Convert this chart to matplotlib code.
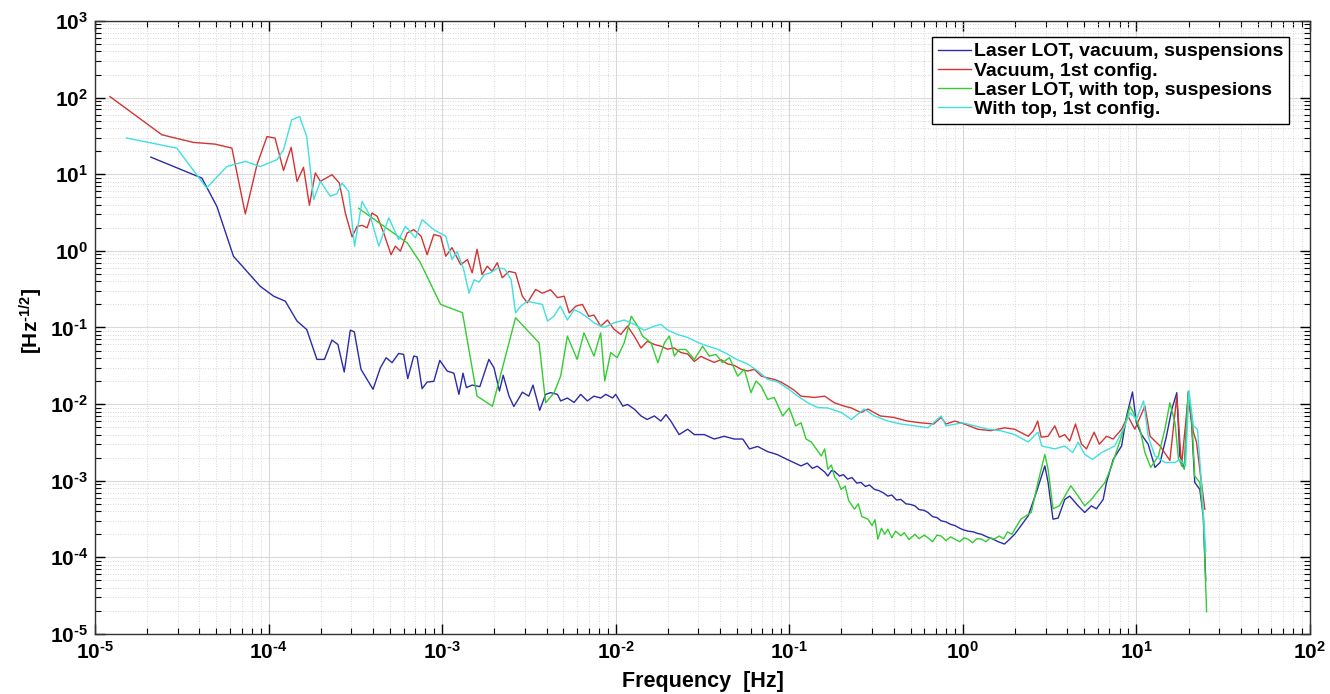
import numpy as np
import matplotlib
matplotlib.use('Agg')
import matplotlib.pyplot as plt
from matplotlib.ticker import LogLocator, NullFormatter, FuncFormatter

plt.rcParams['font.family'] = ['Liberation Sans', 'DejaVu Sans']
plt.rcParams['font.weight'] = 'bold'
plt.rcParams['mathtext.fontset'] = 'custom'
plt.rcParams['mathtext.rm'] = 'Liberation Sans:bold'
plt.rcParams['mathtext.bf'] = 'Liberation Sans:bold'
plt.rcParams['mathtext.default'] = 'bf'
plt.rcParams['axes.unicode_minus'] = False

# Laser LOT, vacuum, suspensions
f_blue = [2.1e-5, 4.13e-5, 5.04e-5, 6.28e-5, 7.5e-5, 8.95e-5, 1.07e-4, 1.25e-4, 1.46e-4, 1.66e-4,
          1.9e-4, 2.1e-4, 2.32e-4, 2.51e-4, 2.73e-4, 2.96e-4, 3.12e-4, 3.41e-4, 4.0e-4, 4.41e-4,
          4.76e-4, 5.15e-4, 5.62e-4, 6.0e-4, 6.34e-4, 6.87e-4, 7.18e-4, 7.67e-4, 8.2e-4, 8.96e-4,
          9.7e-4, 1.07e-3, 1.17e-3, 1.25e-3, 1.32e-3, 1.38e-3, 1.49e-3, 1.65e-3, 1.86e-3, 1.99e-3,
          2.14e-3, 2.25e-3, 2.43e-3, 2.59e-3, 2.75e-3, 2.9e-3, 3.16e-3, 3.34e-3, 3.65e-3, 3.95e-3,
          4.22e-3, 4.62e-3, 4.82e-3, 5.27e-3, 5.76e-3, 6.29e-3, 6.87e-3, 7.5e-3, 8.2e-3, 8.77e-3,
          9.6e-3, 1.0e-2, 1.1e-2, 1.17e-2, 1.28e-2, 1.4e-2, 1.52e-2, 1.67e-2, 1.82e-2, 1.95e-2,
          2.08e-2, 2.32e-2, 2.6e-2, 2.84e-2, 3.24e-2, 3.7e-2, 4.22e-2, 4.82e-2, 5.4e-2, 5.9e-2,
          6.58e-2, 7.5e-2, 8.5e-2, 9.7e-2,
          0.117, 0.127, 0.136, 0.145, 0.153, 0.16, 0.167, 0.175, 0.182, 0.195,
          0.205, 0.217, 0.23, 0.245, 0.259, 0.275, 0.29, 0.31, 0.33, 0.35,
          0.37, 0.39, 0.415, 0.44, 0.47, 0.5, 0.53, 0.56, 0.6, 0.63,
          0.67, 0.71, 0.75, 0.8, 0.85, 0.9, 0.96, 1.0, 1.07, 1.15,
          1.22, 1.28, 1.38, 1.49, 1.6, 1.74, 1.85, 1.99,
          2.38, 2.65, 2.97, 3.1, 3.31, 3.54, 3.87, 4.13,
          4.62, 5.04, 5.51, 5.89, 6.44, 6.73, 7.36, 8.22, 8.79, 9.5,
          10.0, 10.7, 11.7, 12.8, 13.7, 14.9, 16.0, 17.1, 17.8, 18.9,
          19.9, 20.8, 21.7, 23.2, 24.3, 25.1]
v_blue = [16.7, 8.9, 3.8, 0.85, 0.54, 0.345, 0.256, 0.22, 0.121, 0.094,
          0.0383, 0.0383, 0.0684, 0.060, 0.0262, 0.0923, 0.0877, 0.0284, 0.0156, 0.0298,
          0.0403, 0.0347, 0.0458, 0.0445, 0.0215, 0.0424, 0.0413, 0.0159, 0.0194, 0.0198,
          0.0372, 0.027, 0.0253, 0.0134, 0.0253, 0.0164, 0.0177, 0.0169, 0.0383, 0.0298,
          0.0148, 0.0238, 0.0127, 0.0093, 0.0116, 0.0143, 0.0127, 0.0177, 0.0083, 0.0134,
          0.0141, 0.0134, 0.011, 0.012, 0.0105, 0.0134, 0.011, 0.0127, 0.012, 0.0134,
          0.012, 0.0134, 0.0094, 0.0099, 0.0086, 0.007, 0.0063, 0.007, 0.006, 0.0073,
          0.006, 0.004, 0.0047, 0.004, 0.004, 0.0035, 0.0038, 0.0035, 0.0035, 0.0026,
          0.0028, 0.0024, 0.0022, 0.0019,
          1.56e-3, 1.7e-3, 1.45e-3, 1.55e-3, 1.41e-3, 1.3e-3, 1.15e-3, 1.35e-3, 1.33e-3, 1.15e-3,
          1.2e-3, 1.05e-3, 1.1e-3, 9.3e-4, 9.5e-4, 8.4e-4, 8.8e-4, 7.7e-4, 7.4e-4, 6.9e-4,
          6.3e-4, 6.5e-4, 5.6e-4, 5.7e-4, 5.0e-4, 4.9e-4, 4.7e-4, 4.2e-4, 4.1e-4, 3.85e-4,
          3.4e-4, 3.3e-4, 3.0e-4, 2.9e-4, 2.7e-4, 2.6e-4, 2.4e-4, 2.3e-4, 2.2e-4, 2.15e-4,
          2.05e-4, 2.0e-4, 1.85e-4, 1.73e-4, 1.6e-4, 1.49e-4, 1.7e-4, 2.0e-4,
          3.47e-4, 7.0e-4, 1.56e-3, 9.5e-4, 3.15e-4, 3.25e-4, 5.7e-4, 6.3e-4,
          4.7e-4, 3.85e-4, 4.7e-4, 4.3e-4, 5.7e-4, 9.5e-4, 1.9e-3, 2.84e-3, 7.0e-3, 0.0144,
          5.7e-3, 4.0e-3, 3.0e-3, 1.49e-3, 1.73e-3, 3.8e-3, 8.5e-3, 0.0141, 2.1e-3, 1.49e-3,
          0.0141, 5.7e-3, 9.5e-4, 7.7e-4, 3.47e-4, 5e-5]

# Vacuum, 1st config.
f_red = [1.22e-5, 2.43e-5, 3.69e-5, 4.92e-5, 6.15e-5, 7.35e-5, 8.58e-5, 9.8e-5, 1.09e-4, 1.22e-4,
         1.35e-4, 1.46e-4, 1.59e-4, 1.72e-4, 1.86e-4, 1.99e-4, 2.32e-4, 2.56e-4, 2.77e-4, 3.03e-4,
         3.24e-4, 3.46e-4, 3.70e-4, 3.95e-4, 4.23e-4, 4.61e-4, 5.08e-4, 5.38e-4, 5.75e-4, 6.29e-4,
         6.87e-4, 7.57e-4, 8.2e-4, 8.96e-4, 9.8e-4, 1.05e-3, 1.14e-3, 1.28e-3, 1.4e-3, 1.49e-3,
         1.59e-3, 1.7e-3, 1.82e-3, 1.94e-3, 2.08e-3, 2.22e-3, 2.43e-3, 2.65e-3, 2.9e-3, 3.1e-3,
         3.46e-3, 3.78e-3, 4.22e-3, 4.62e-3, 5.05e-3, 5.4e-3, 5.9e-3, 6.43e-3, 7.0e-3, 7.5e-3,
         8.2e-3, 8.96e-3, 9.8e-3, 1.07e-2, 1.17e-2, 1.28e-2, 1.4e-2, 1.52e-2, 1.67e-2, 1.82e-2,
         1.99e-2, 2.17e-2, 2.38e-2, 2.6e-2, 2.84e-2, 3.1e-2, 3.4e-2, 3.7e-2, 4.05e-2, 4.4e-2,
         4.82e-2, 5.3e-2, 5.75e-2, 6.3e-2, 6.9e-2, 7.5e-2, 8.2e-2, 8.96e-2, 9.8e-2, 0.107,
         0.117, 0.14, 0.16, 0.182, 0.208, 0.228, 0.259, 0.284, 0.335, 0.4,
         0.48, 0.57, 0.68, 0.75, 0.8, 0.9, 1.02, 1.22, 1.45, 1.74,
         1.99, 2.38, 2.55, 2.7, 2.83, 3.1, 3.39, 3.6, 3.87, 4.13,
         4.46, 4.83, 5.16, 5.71, 6.12, 6.73, 7.36, 8.22, 8.94, 9.8,
         10.5, 11.2, 12.0, 13.7, 15.6, 17.1, 18.2, 19.9, 21.3, 22.2,
         23.7, 24.8]
v_red = [103, 32.7, 26, 24.7, 21.9, 3.03, 13.3, 31, 29.6, 11.2,
         22.4, 8.05, 12.3, 3.93, 10.4, 8.06, 9.85, 7.67, 3.12, 1.52,
         2.09, 2.15, 2.0, 3.12, 2.82, 1.71, 0.89, 1.15, 0.99, 1.71,
         1.89, 1.55, 0.89, 1.63, 1.55, 0.85, 1.1, 0.66, 0.77, 0.516,
         1.05, 0.49, 0.63, 0.54, 0.7, 0.445, 0.54, 0.516, 0.256, 0.21,
         0.313, 0.28, 0.31, 0.245, 0.256, 0.155, 0.19, 0.2, 0.14, 0.145,
         0.104, 0.125, 0.0944, 0.081, 0.104, 0.077, 0.054, 0.066, 0.06, 0.057,
         0.052, 0.054, 0.047, 0.045, 0.036, 0.042, 0.038, 0.035, 0.038, 0.0335,
         0.032, 0.0284, 0.027, 0.0284, 0.0232, 0.022, 0.021, 0.0194, 0.0172, 0.0151,
         0.0127, 0.0122, 0.0127, 0.0104, 9.4e-3, 8.9e-3, 7.75e-3, 8.6e-3, 7.0e-3, 6.7e-3,
         6.0e-3, 5.7e-3, 5.5e-3, 6.7e-3, 5.5e-3, 6.0e-3, 5.5e-3, 4.7e-3, 4.5e-3, 4.9e-3,
         4.7e-3, 3.8e-3, 4.5e-3, 6.0e-3, 3.7e-3, 3.8e-3, 5.2e-3, 3.7e-3, 4.0e-3, 3.3e-3,
         5.5e-3, 3.0e-3, 2.6e-3, 4.3e-3, 3.0e-3, 3.8e-3, 3.5e-3, 4.7e-3, 7.0e-3, 4.7e-3,
         6.7e-3, 9.4e-3, 3.8e-3, 2.84e-3, 1.84e-3, 0.0127, 1.56e-3, 0.0127, 4.3e-3, 3.2e-3,
         9.5e-4, 4.25e-4]

# Laser LOT, with top, suspesions
f_green = [3.3e-4, 6.3e-4, 7.5e-4, 9.8e-4, 1.31e-3, 1.59e-3, 1.95e-3, 2.65e-3, 3.62e-3, 3.95e-3,
           4.42e-3, 4.82e-3, 5.27e-3, 6.0e-3, 6.57e-3, 7.5e-3, 8.2e-3, 8.65e-3, 9.37e-3, 1.02e-2,
           1.12e-2, 1.23e-2, 1.34e-2, 1.43e-2, 1.6e-2, 1.75e-2, 1.91e-2, 2.04e-2, 2.18e-2, 2.32e-2,
           2.54e-2, 2.84e-2, 3.17e-2, 3.46e-2, 3.78e-2, 4.13e-2, 4.52e-2, 5.05e-2, 5.51e-2, 6.02e-2,
           6.44e-2, 6.88e-2, 7.52e-2, 8.2e-2, 9.16e-2, 0.1, 0.109, 0.117, 0.125, 0.134,
           0.153, 0.16, 0.167, 0.175, 0.183, 0.19, 0.199, 0.21, 0.22, 0.238,
           0.25, 0.262, 0.284, 0.3, 0.312, 0.324, 0.34, 0.355, 0.37, 0.39,
           0.41, 0.44, 0.46, 0.49, 0.53, 0.56, 0.6, 0.63, 0.67, 0.71,
           0.75, 0.8, 0.85, 0.9, 0.96, 1.02, 1.07, 1.14, 1.2, 1.28,
           1.36, 1.44, 1.52, 1.62, 1.72, 1.81, 1.92, 2.03, 2.16,
           2.48, 2.71, 2.97, 3.1, 3.31, 3.6, 4.19, 4.62, 5.04, 5.51,
           6.0, 6.6, 7.2, 8.22, 9.2, 9.8, 10.5, 11.2, 12.1, 13.4,
           14.6, 15.6, 16.7, 17.5, 18.9, 19.9, 20.8, 21.7, 23.2, 24.3,
           25.4]
v_green = [3.6, 1.27, 0.70, 0.2, 0.156, 0.0127, 9.4e-3, 0.134, 0.063, 0.0104,
           0.0141, 0.0232, 0.077, 0.0383, 0.085, 0.0423, 0.085, 0.02, 0.047, 0.0403,
           0.063, 0.14, 0.104, 0.077, 0.063, 0.0347, 0.063, 0.077, 0.0423, 0.0516,
           0.0516, 0.0383, 0.057, 0.0423, 0.0445, 0.0347, 0.0403, 0.0232, 0.0284, 0.0141,
           0.02, 0.0172, 0.0115, 0.0122, 7.0e-3, 8.9e-3, 5.2e-3, 5.7e-3, 3.5e-3, 3.2e-3,
           2.1e-3, 2.6e-3, 1.41e-3, 1.6e-3, 1.1e-3, 1.0e-3, 7.7e-4, 8.5e-4, 5.5e-4, 4.25e-4,
           5.0e-4, 3.4e-4, 3.15e-4, 2.6e-4, 3.1e-4, 1.73e-4, 2.4e-4, 2.0e-4, 2.33e-4, 1.8e-4,
           2.2e-4, 1.91e-4, 2.1e-4, 1.7e-4, 2.0e-4, 1.75e-4, 1.95e-4, 1.8e-4, 1.6e-4, 1.95e-4,
           1.9e-4, 1.65e-4, 1.85e-4, 1.73e-4, 1.6e-4, 1.8e-4, 1.73e-4, 1.55e-4, 1.75e-4, 1.73e-4,
           1.6e-4, 1.8e-4, 1.73e-4, 1.9e-4, 1.75e-4, 2.15e-4, 2.0e-4, 2.5e-4, 3.15e-4,
           3.85e-4, 9.5e-4, 2.2e-3, 1.41e-3, 4.3e-4, 4.7e-4, 8.6e-4, 6.3e-4, 4.7e-4, 5.7e-4,
           7.3e-4, 9.5e-4, 1.56e-3, 3.8e-3, 9.4e-3, 7.0e-3, 4.7e-3, 2.33e-3, 1.49e-3, 2.1e-3,
           4.7e-3, 0.0104, 5.7e-3, 1.9e-3, 1.41e-3, 0.0148, 7.0e-3, 1.15e-3, 9.5e-4, 3.47e-4,
           1.95e-5]

# With top, 1st config.
f_cyan = [1.52e-5, 2.96e-5, 4.4e-5, 5.75e-5, 7.35e-5, 8.96e-5, 1.12e-4, 1.22e-4, 1.36e-4, 1.51e-4,
          1.66e-4, 1.82e-4, 1.99e-4, 2.27e-4, 2.48e-4, 2.65e-4, 2.9e-4, 3.13e-4, 3.46e-4, 3.86e-4,
          4.32e-4, 4.93e-4, 5.62e-4, 6.15e-4, 7.03e-4, 7.68e-4, 8.96e-4, 1.05e-3, 1.14e-3, 1.22e-3,
          1.33e-3, 1.43e-3, 1.53e-3, 1.63e-3, 1.75e-3, 1.9e-3, 2.1e-3, 2.3e-3, 2.5e-3, 2.65e-3,
          2.84e-3, 3.1e-3, 3.4e-3, 3.78e-3, 4.05e-3, 4.4e-3, 4.8e-3, 5.27e-3, 5.76e-3, 6.3e-3,
          6.87e-3, 7.5e-3, 8.55e-3, 9.8e-3, 1.12e-2, 1.28e-2, 1.46e-2, 1.67e-2, 1.82e-2, 2.0e-2,
          2.27e-2, 2.6e-2, 2.96e-2, 3.4e-2, 3.87e-2, 4.4e-2, 5.0e-2, 5.75e-2, 6.6e-2, 7.5e-2,
          8.6e-2, 9.8e-2, 0.112, 0.128, 0.146, 0.167, 0.2, 0.228, 0.27, 0.31,
          0.37, 0.44, 0.53, 0.63, 0.75, 0.8, 1.0, 1.17, 1.4, 1.65,
          1.99, 2.38, 2.71, 2.85, 3.39, 3.87, 4.3, 4.62, 5.04, 5.6,
          6.3, 7.5, 8.4, 9.2, 10.0, 11.0, 11.7, 12.8, 14.6, 16.7,
          17.8, 19.2, 20.1, 21.3, 22.5, 23.7, 25.1]
v_cyan = [29.7, 21.9, 6.6, 12.6, 14.7, 12.6, 15.5, 20.9, 51.3, 56.6,
          31.1, 4.66, 8.06, 5.14, 5.6, 7.67, 5.97, 1.15, 4.43, 2.82,
          1.15, 2.7, 1.4, 2.09, 1.48, 2.55, 1.89, 1.55, 0.77, 0.98,
          0.58, 0.28, 0.42, 0.39, 0.49, 0.516, 0.6, 0.58, 0.42, 0.155,
          0.19, 0.22, 0.21, 0.2, 0.121, 0.14, 0.19, 0.125, 0.17, 0.155,
          0.135, 0.115, 0.1, 0.115, 0.125, 0.11, 0.092, 0.104, 0.11, 0.092,
          0.081, 0.074, 0.064, 0.057, 0.052, 0.045, 0.038, 0.0335, 0.027, 0.021,
          0.0194, 0.016, 0.0127, 0.0104, 9.0e-3, 8.9e-3, 7.75e-3, 6.3e-3, 8.6e-3, 7.0e-3,
          6.0e-3, 5.5e-3, 5.2e-3, 4.9e-3, 7.0e-3, 5.2e-3, 5.7e-3, 5.2e-3, 4.7e-3, 4.5e-3,
          4.0e-3, 3.2e-3, 4.3e-3, 2.84e-3, 2.6e-3, 2.84e-3, 2.33e-3, 3.2e-3, 2.2e-3, 1.9e-3,
          2.33e-3, 2.84e-3, 4.7e-3, 7.75e-3, 6.3e-3, 0.011, 3.8e-3, 2.1e-3, 1.73e-3, 1.73e-3,
          1.9e-3, 1.56e-3, 0.0148, 5.2e-3, 4.7e-3, 9.5e-4, 1.2e-4]

labels = ['Laser LOT, vacuum, suspensions', 'Vacuum, 1st config.',
          'Laser LOT, with top, suspesions', 'With top, 1st config.']
colors = ['#2b2ba8', '#d23434', '#33cc33', '#3fe0e0']


def pow10(val, pos):
    # MATLAB-style label with a short hyphen in the exponent
    e = int(round(np.log10(val)))
    if e < 0:
        return r'$10^{\text{-}%d}$' % (-e)
    return r'$10^{%d}$' % e


fig = plt.figure(figsize=(13.3, 6.94), dpi=100)
ax = fig.add_axes([0.0714, 0.0865, 0.9135, 0.8833])

for f, v, c, lab in zip([f_blue, f_red, f_green, f_cyan],
                        [v_blue, v_red, v_green, v_cyan], colors, labels):
    ax.loglog(f, v, '-', color=c, lw=1.0, label=lab)

ax.set_xlim(1e-5, 1e2)
ax.set_ylim(1e-5, 1e3)
ax.xaxis.set_major_locator(LogLocator(base=10, numticks=20))
ax.yaxis.set_major_locator(LogLocator(base=10, numticks=20))
ax.xaxis.set_minor_locator(LogLocator(base=10, subs=np.arange(2, 10), numticks=20))
ax.yaxis.set_minor_locator(LogLocator(base=10, subs=np.arange(2, 10), numticks=20))
ax.xaxis.set_major_formatter(FuncFormatter(pow10))
ax.yaxis.set_major_formatter(FuncFormatter(pow10))
ax.xaxis.set_minor_formatter(NullFormatter())
ax.yaxis.set_minor_formatter(NullFormatter())

ax.grid(True, which='major', color='#d9d9d9', lw=0.8, ls='-')
ax.grid(True, which='minor', color='#cccccc', lw=0.6, ls=(0, (1, 2)))
ax.set_axisbelow(True)

ax.tick_params(which='both', direction='in', top=True, right=True, labelsize=15)
ax.tick_params(which='major', length=7, width=1)
ax.tick_params(which='minor', length=4, width=0.8)
ax.tick_params(axis='y', which='major', pad=5)
ax.tick_params(axis='x', which='major', pad=5)
for s in ax.spines.values():
    s.set_linewidth(1.0)
    s.set_color('#333333')

ax.set_xlabel('Frequency  [Hz]', fontsize=15.5, fontweight='bold', labelpad=6)
ax.set_ylabel('[Hz$^{\\text{-}1/2}$]', fontsize=15, fontweight='bold')
ax.yaxis.set_label_coords(-0.041, 0.51)

leg = ax.legend(loc='upper right', bbox_to_anchor=(0.9827, 0.974), fontsize=14,
                handlelength=1.7, handletextpad=0.15, labelspacing=0.08,
                borderpad=0.3, borderaxespad=0, fancybox=False, framealpha=1)
leg.get_frame().set_edgecolor('black')
leg.get_frame().set_linewidth(1.0)
for t in leg.get_texts():
    t.set_fontweight('bold')

fig.savefig('out.png', dpi=100)
